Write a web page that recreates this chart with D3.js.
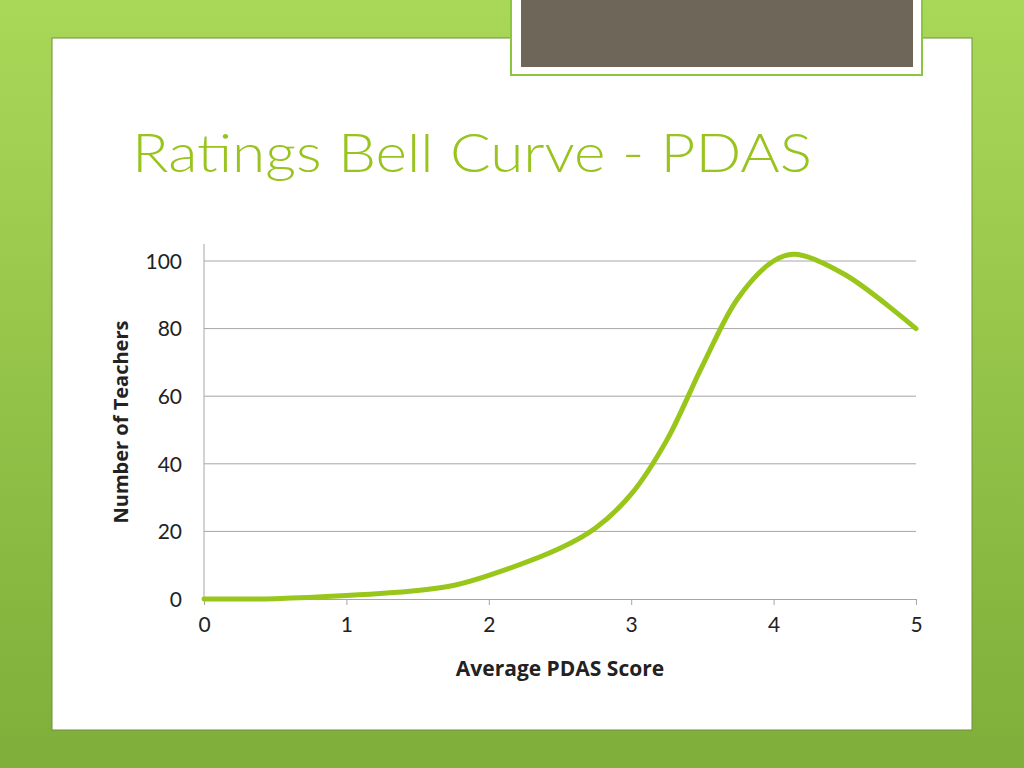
<!DOCTYPE html>
<html><head><meta charset="utf-8">
<script src="https://cdn.jsdelivr.net/npm/d3@7"></script>
<style>body{margin:0;overflow:hidden}</style>
</head><body>
<svg id="c" width="1024" height="768"></svg>
<script>
// data
const scores = [0, 0.5, 1, 1.5, 1.75, 2, 2.5, 2.75, 3, 3.25, 3.5, 3.75, 4, 4.15, 4.5, 5];
const teachers = [0, 0.1, 1, 2.5, 4, 7, 15, 21, 31, 47, 69, 89, 100, 102, 96, 80];
const xTicks = [0, 1, 2, 3, 4, 5];
const yTicks = [0, 20, 40, 60, 80, 100];

const svg = d3.select('#c');
const defs = svg.append('defs');
const g1 = defs.append('linearGradient').attr('id', 'bg').attr('x1', 0).attr('y1', 0).attr('x2', 0).attr('y2', 1);
g1.append('stop').attr('offset', 0).attr('stop-color', '#a9d858');
g1.append('stop').attr('offset', 1).attr('stop-color', '#7fae3a');
svg.append('rect').attr('width', 1024).attr('height', 768).attr('fill', 'url(#bg)');

// white card
svg.append('rect').attr('x', 52).attr('y', 38).attr('width', 920).attr('height', 692)
    .attr('fill', '#fff').attr('stroke', '#6f8f3a').attr('stroke-width', 1);
// top decoration
svg.append('rect').attr('x', 511).attr('y', -2).attr('width', 411).attr('height', 77)
    .attr('fill', '#fff').attr('stroke', '#8cc63f').attr('stroke-width', 2);
svg.append('rect').attr('x', 521).attr('y', 0).attr('width', 392).attr('height', 67).attr('fill', '#6e6658');

svg.append('text').attr('x', 132).attr('y', 172).attr('font-family', 'Lato, sans-serif')
    .attr('font-weight', 300).attr('font-size', 54).attr('fill', '#99c31f')
    .attr('textLength', 680).attr('lengthAdjust', 'spacingAndGlyphs').text('Ratings Bell Curve - PDAS');

const x = d3.scaleLinear().domain([0, 5]).range([204, 916]);
const y = d3.scaleLinear().domain([0, 100]).range([599, 261]);

// gridlines
svg.append('g').selectAll('line').data(yTicks.slice(1)).join('line')
    .attr('x1', 204).attr('x2', 916).attr('y1', d => y(d)).attr('y2', d => y(d))
    .attr('stroke', '#a6a6a6').attr('stroke-width', 1);

const yAxis = svg.append('g').attr('transform', 'translate(204,0)')
    .call(d3.axisLeft(y).tickValues(yTicks).tickFormat(d3.format('d')).tickSize(0).tickPadding(22));
yAxis.select('.domain').attr('d', `M0,244V${y(0)}`).attr('stroke', '#a6a6a6');
const xAxis = svg.append('g').attr('transform', `translate(0,${y(0)})`)
    .call(d3.axisBottom(x).tickValues(xTicks).tickFormat(d3.format('d')).tickSize(6).tickPadding(12).tickSizeOuter(0));
xAxis.select('.domain').attr('stroke', '#a6a6a6');
xAxis.selectAll('line').attr('stroke', '#a6a6a6');
svg.selectAll('.tick text').attr('font-family', 'Lato, sans-serif').attr('font-size', 21).attr('fill', '#222');
yAxis.selectAll('.tick text').attr('dy', '0.35em');

svg.append('text').attr('x', 560).attr('y', 676).attr('text-anchor', 'middle')
    .attr('font-family', 'Open Sans, sans-serif').attr('font-weight', 'bold').attr('font-size', 21)
    .attr('fill', '#222').text('Average PDAS Score');
svg.append('text').attr('transform', 'translate(128,422) rotate(-90)').attr('text-anchor', 'middle')
    .attr('font-family', 'Open Sans, sans-serif').attr('font-weight', 'bold').attr('font-size', 20)
    .attr('fill', '#222').text('Number of Teachers');

const line = d3.line().x((d, i) => x(scores[i])).y(d => y(d)).curve(d3.curveCatmullRom.alpha(0.5));
svg.append('path').datum(teachers).attr('d', line).attr('fill', 'none')
    .attr('stroke', '#99c61a').attr('stroke-width', 5).attr('stroke-linecap', 'round');
</script>
</body></html>
